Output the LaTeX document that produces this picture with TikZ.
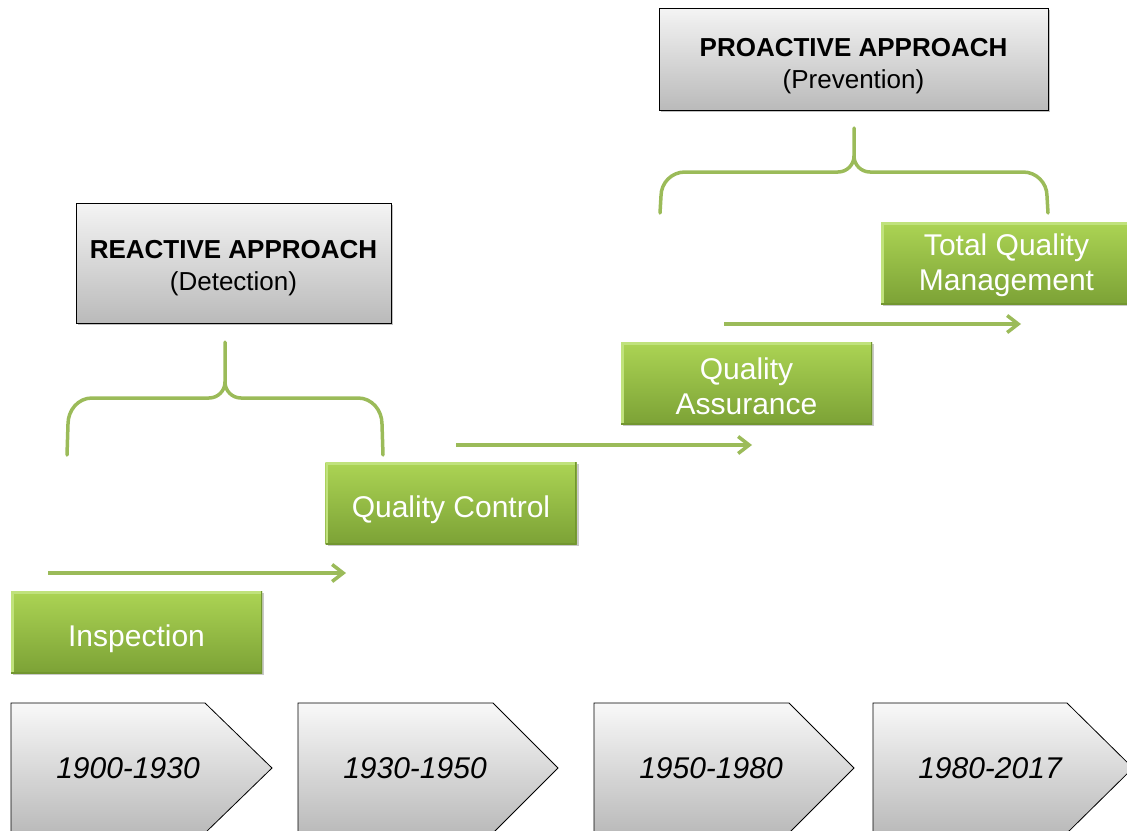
\documentclass[tikz,border=0pt]{standalone}
\usepackage{fontspec}
\setmainfont{Liberation Sans}
\usetikzlibrary{arrows.meta,shadows}

\definecolor{leafgreen}{RGB}{155,187,89}
\definecolor{greentop}{RGB}{172,212,84}
\definecolor{greenbot}{RGB}{124,162,54}
\definecolor{greenlight}{RGB}{192,226,124}
\definecolor{greendark}{RGB}{114,150,48}
\definecolor{graytop}{RGB}{244,244,244}
\definecolor{graybot}{RGB}{186,186,186}

\tikzset{
  stagebox/.style={rectangle, draw=none,
    top color=greentop, bottom color=greenbot,
    minimum width=251, minimum height=82, inner sep=0pt,
    path picture={
      \draw[greenlight, line width=5pt]
        (path picture bounding box.south west) -- (path picture bounding box.north west)
        -- (path picture bounding box.north east);
      \draw[greendark, line width=3pt]
        (path picture bounding box.north east) -- (path picture bounding box.south east)
        -- (path picture bounding box.south west);
    },
    drop shadow={shadow xshift=2pt, shadow yshift=-2pt, opacity=0.3, fill=black!70}},
  stagetext/.style={text=white, align=center, inner sep=0pt,
    font=\fontsize{30}{35}\selectfont},
  approachbox/.style={rectangle, draw=black, line width=0.8pt,
    top color=graytop, bottom color=graybot, inner sep=0pt,
    drop shadow={shadow xshift=2pt, shadow yshift=-2pt, opacity=0.35, fill=black!70}},
  approachtext/.style={align=center, inner sep=0pt,
    font=\fontsize{26}{32}\selectfont},
  yearbox/.style={draw=black, line width=0.8pt,
    top color=graytop!60!white, bottom color=graybot},
  yeartext/.style={font=\fontsize{30}{35}\selectfont\itshape, text=black},
  flow/.style={draw=leafgreen, line width=3.5pt,
    -{Straight Barb[length=11pt, width=17pt, line width=3.5pt]}},
  bracket/.style={draw=leafgreen, line width=3.5pt, line cap=round},
}

\begin{document}
\begin{tikzpicture}[x=1pt, y=-1pt]
\useasboundingbox (0,0) rectangle (1127,830);

% period arrows along the bottom
\path[yearbox] (11,703) -- (205,703) -- (272,768) -- (205,833) -- (11,833) -- cycle;
\path[yearbox] (298,703) -- (493,703) -- (558,768) -- (493,833) -- (298,833) -- cycle;
\path[yearbox] (594,703) -- (789,703) -- (854,768) -- (789,833) -- (594,833) -- cycle;
\path[yearbox] (873,703) -- (1067,703) -- (1133,768) -- (1067,833) -- (873,833) -- cycle;
\node[yeartext] (y1) at (128,768) {1900-1930};
\node[yeartext] (y2) at (415,768) {1930-1950};
\node[yeartext] (y3) at (711,768) {1950-1980};
\node[yeartext] (y4) at (990,768) {1980-2017};

% quality stages
\node[stagebox] (insp) at (136.5,632)  {};
\node[stagebox] (qc)   at (451,503)    {};
\node[stagebox] (qa)   at (746.5,383)  {};
\node[stagebox] (tqm)  at (1006.5,263) {};
\node[stagetext] (inspT) at ([yshift=-7pt]insp.center) {Inspection};
\node[stagetext] (qcT)   at ([yshift=-7pt]qc.center)   {Quality Control};
\node[stagetext] (qaT)   at ([yshift=-3pt]qa.center)   {Quality\\Assurance};
\node[stagetext] (tqmT)  at ([yshift=-2pt]tqm.center)  {Total Quality\\Management};

% progression arrows
\coordinate (f1s) at (48,573);  \coordinate (f1e) at (346,573);
\coordinate (f2s) at (456,445); \coordinate (f2e) at (752,445);
\coordinate (f3s) at (724,324); \coordinate (f3e) at (1021,324);
\draw[flow] (f1s) -- (f1e);
\draw[flow] (f2s) -- (f2e);
\draw[flow] (f3s) -- (f3e);

% approach boxes
\node[approachbox, minimum width=315, minimum height=120] (reactive) at (233.5,263) {};
\node[approachbox, minimum width=389, minimum height=102] (proactive) at (853.5,59) {};
\node[approachtext] (reactiveT) at ([yshift=-5pt]reactive.center)
  {\textbf{REACTIVE APPROACH}\\(Detection)};
\node[approachtext] (proactiveT) at ([yshift=-7pt]proactive.center)
  {\textbf{PROACTIVE APPROACH}\\(Prevention)};

% braces grouping the stages
\coordinate (rb) at (225,342);
\draw[bracket] (67,455) -- (68,424) to[out=90,in=180] (92,398) -- (209,398)
  to[out=0,in=-90] (225,382) -- (rb);
\draw[bracket] (383,455) -- (382,424) to[out=90,in=0] (358,398) -- (241,398)
  to[out=180,in=-90] (225,382);
\coordinate (pb) at (854,128);
\draw[bracket] (660,213) -- (661,196) to[out=90,in=180] (685,172) -- (838,172)
  to[out=0,in=-90] (854,156) -- (pb);
\draw[bracket] (1048,213) -- (1047,196) to[out=90,in=0] (1023,172) -- (870,172)
  to[out=180,in=-90] (854,156);
\end{tikzpicture}
\end{document}
